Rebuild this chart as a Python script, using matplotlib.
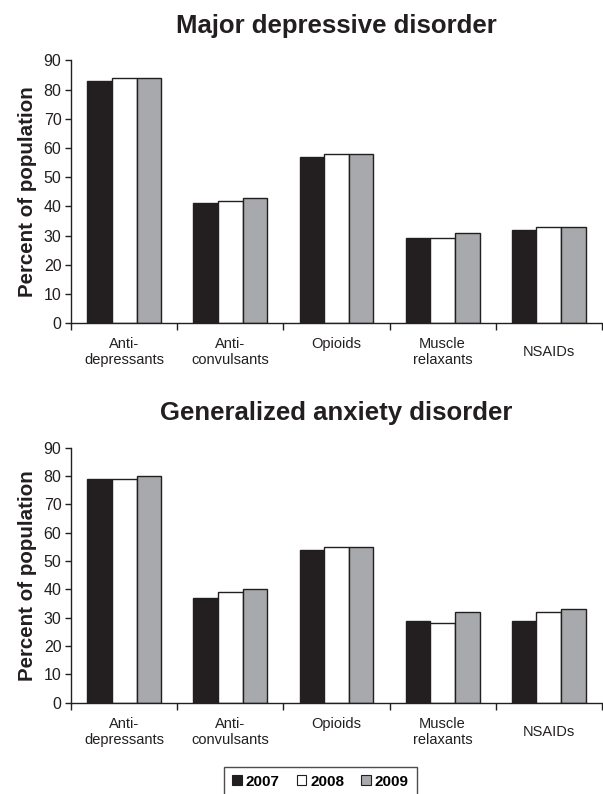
import matplotlib.pyplot as plt
import matplotlib.transforms as mtransforms
import numpy as np
from matplotlib.patches import Patch

plt.rcParams['font.family'] = ['Liberation Sans', 'DejaVu Sans']

categories = ["Anti-\ndepressants", "Anti-\nconvulsants", "Opioids", "Muscle\nrelaxants", "NSAIDs"]
years = ["2007", "2008", "2009"]
colors = ["#231f20", "#ffffff", "#a7a9ac"]

mdd_2007 = [83, 41, 57, 29, 32]
mdd_2008 = [84, 42, 58, 29, 33]
mdd_2009 = [84, 43, 58, 31, 33]

gad_2007 = [79, 37, 54, 29, 29]
gad_2008 = [79, 39, 55, 28, 32]
gad_2009 = [80, 40, 55, 32, 33]


def draw_panel(fig, ax, series, title):
    x = np.arange(len(categories))
    w = 0.232
    for i, vals in enumerate(series):
        ax.bar(x + (i - 1) * w, vals, w, color=colors[i], edgecolor="#231f20", linewidth=1.0)
    ax.set_xlim(-0.5, len(categories) - 0.5)
    ax.set_ylim(0, 90)
    ax.set_yticks(range(0, 91, 10))
    ax.set_xticks(np.arange(-0.5, len(categories), 1.0))
    ax.set_xticklabels([])
    ax.set_xticks(x, minor=True)
    ax.set_xticklabels(categories, minor=True, fontsize=10.5, color="#231f20")
    ax.tick_params(axis="x", which="minor", length=0, pad=10)
    ax.tick_params(axis="x", which="major", length=5, width=1, color="#231f20")
    ax.tick_params(axis="y", length=4, width=1, color="#231f20", labelsize=11.5, labelcolor="#231f20", pad=3)
    # single-line NSAIDs label sits midway in the two-line block
    lbl = ax.get_xticklabels(minor=True)[-1]
    lbl.set_transform(lbl.get_transform() + mtransforms.ScaledTranslation(0, -6 / 72, fig.dpi_scale_trans))
    for s in ["top", "right"]:
        ax.spines[s].set_visible(False)
    for s in ["left", "bottom"]:
        ax.spines[s].set_color("#231f20")
        ax.spines[s].set_linewidth(1)
    ax.set_ylabel("Percent of population", fontsize=14.8, fontweight="bold", color="#231f20", labelpad=5)
    ax.set_title(title, fontsize=18.5, fontweight="bold", color="#231f20", pad=20)


fig = plt.figure(figsize=(6.03, 7.94), dpi=100)
ax1 = fig.add_axes([0.118, 0.593, 0.88, 0.331])
ax2 = fig.add_axes([0.118, 0.115, 0.88, 0.321])

draw_panel(fig, ax1, [mdd_2007, mdd_2008, mdd_2009], "Major depressive disorder")
draw_panel(fig, ax2, [gad_2007, gad_2008, gad_2009], "Generalized anxiety disorder")

handles = [Patch(facecolor=c, edgecolor="#231f20", linewidth=0.8) for c in colors]
leg = fig.legend(handles, years, loc="upper center", bbox_to_anchor=(0.5315, 0.034), ncol=3,
                 frameon=True, fancybox=False, handlelength=0.65, handleheight=0.65,
                 handletextpad=0.25, columnspacing=1.1, borderpad=0.5, borderaxespad=0,
                 prop={"weight": "bold", "size": 11})
leg.get_frame().set_edgecolor("#231f20")
leg.get_frame().set_linewidth(1)

fig.savefig("out.png", dpi=100)
